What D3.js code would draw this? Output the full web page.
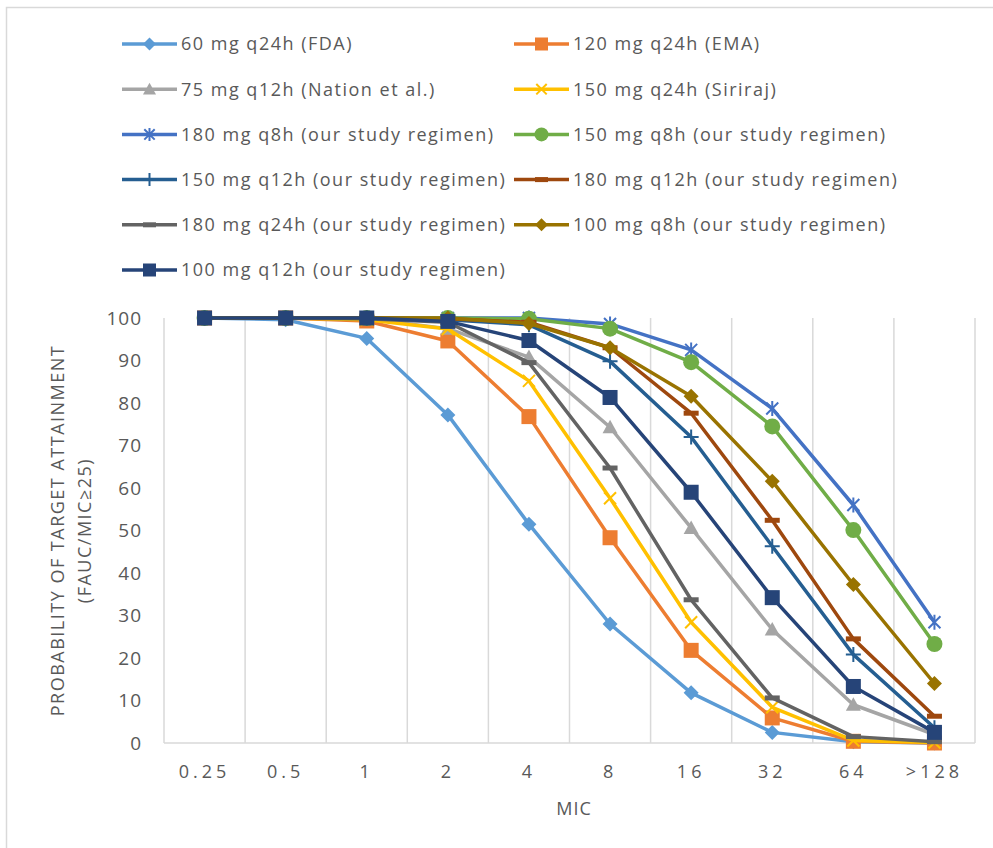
<!DOCTYPE html>
<html>
<head>
<meta charset="utf-8">
<script src="https://cdn.jsdelivr.net/npm/d3@7"></script>
<style>
  body { margin: 0; background: #fff; }
  text { font-family: "Open Sans", "Noto Sans", sans-serif; fill: #595959; }
</style>
</head>
<body>
<div id="container"></div>
<script>
/* DATA */
const mic = ["0.25", "0.5", "1", "2", "4", "8", "16", "32", "64", ">128"];

const fda60      = [100, 99.6, 95.2, 77.2, 51.5, 28.0, 11.8, 2.5, 0.3, 0];
const ema120     = [100, 100, 99.3, 94.6, 76.8, 48.3, 21.8, 5.9, 0.4, 0];
const nation75   = [100, 100, 99.8, 97.5, 90.8, 74.3, 50.6, 26.7, 9.0, 2.0];
const siriraj150 = [100, 100, 99.6, 97.4, 85.2, 57.6, 28.4, 8.4, 0.6, 0.1];
const q8h180     = [100, 100, 100, 100, 100, 98.6, 92.5, 78.7, 56.0, 28.4];
const q8h150     = [100, 100, 100, 100, 99.8, 97.5, 89.6, 74.5, 50.1, 23.3];
const q12h150    = [100, 100, 100, 99.6, 98.4, 89.8, 72.0, 46.3, 20.8, 3.6];
const q12h180    = [100, 100, 100, 99.8, 99.0, 93.0, 77.6, 52.4, 24.5, 6.3];
const q24h180    = [100, 100, 99.8, 99.0, 89.5, 64.7, 33.7, 10.6, 1.5, 0.3];
const q8h100     = [100, 100, 100, 100, 98.7, 93.0, 81.6, 61.6, 37.3, 14.0];
const q12h100    = [100, 100, 100, 99.2, 94.7, 81.3, 59.0, 34.2, 13.3, 2.5];

const names = [
  "60 mg q24h (FDA)", "120 mg q24h (EMA)",
  "75 mg q12h (Nation et al.)", "150 mg q24h (Siriraj)",
  "180 mg q8h (our study regimen)", "150 mg q8h (our study regimen)",
  "150 mg q12h (our study regimen)", "180 mg q12h (our study regimen)",
  "180 mg q24h (our study regimen)", "100 mg q8h (our study regimen)",
  "100 mg q12h (our study regimen)"
];
const values = [fda60, ema120, nation75, siriraj150, q8h180, q8h150,
                q12h150, q12h180, q24h180, q8h100, q12h100];

/* STYLES */
const colors = ["#5B9BD5", "#ED7D31", "#A5A5A5", "#FFC000", "#4472C4", "#70AD47",
                "#255E91", "#9E480E", "#636363", "#997300", "#264478"];
const shapes = ["diamond", "square", "triangle", "x", "star", "circle",
                "plus", "dash", "dash", "diamond", "square"];

const series = names.map((name, i) => ({
  name, color: colors[i], shape: shapes[i],
  values: values[i].map((v, j) => ({ mic: mic[j], v }))
}));

/* CONSTANTS */
const width = 993, height = 848,
  margin = { top: 318, bottom: 105, left: 164, right: 18 };

const svg = d3.select("#container")
  .append("svg")
  .attr("width", width)
  .attr("height", height);

// chart border (only left and top edges in frame)
svg.append("rect")
  .attr("x", 6.5).attr("y", 7.5)
  .attr("width", 1000).attr("height", 1000)
  .attr("fill", "none")
  .attr("stroke", "#d9d9d9")
  .attr("stroke-width", 1.5);

/* SCALES */
const xScale = d3.scaleBand()
  .domain(mic)
  .range([margin.left, width - margin.right]);

const yScale = d3.scaleLinear()
  .domain([0, 100])
  .range([height - margin.bottom, margin.top]);

// vertical gridlines at category edges
const edges = mic.map(m => xScale(m)).concat([xScale.range()[1]]);
svg.append("g")
  .selectAll("line")
  .data(edges)
  .join("line")
  .attr("x1", d => d).attr("x2", d => d)
  .attr("y1", yScale(100)).attr("y2", yScale(0))
  .attr("stroke", "#d9d9d9")
  .attr("stroke-width", 1.5);

// x axis line
svg.append("line")
  .attr("x1", xScale.range()[0]).attr("x2", xScale.range()[1])
  .attr("y1", yScale(0)).attr("y2", yScale(0))
  .attr("stroke", "#d9d9d9")
  .attr("stroke-width", 1.5);

// axes
const xAxis = d3.axisBottom(xScale).tickSize(0).tickPadding(22);
svg.append("g")
  .attr("transform", `translate(0,${yScale(0)})`)
  .call(xAxis)
  .call(g => g.select(".domain").remove())
  .selectAll("text")
  .style("font-size", "18px")
  .style("letter-spacing", "4px")
  .style("font-family", "'Open Sans', sans-serif")
  .attr("fill", "#595959");

const yAxis = d3.axisLeft(yScale).tickValues(d3.range(0, 101, 10)).tickSize(0).tickPadding(22);
svg.append("g")
  .attr("transform", `translate(${margin.left},0)`)
  .call(yAxis)
  .call(g => g.select(".domain").remove())
  .selectAll("text")
  .style("font-size", "19px")
  .style("letter-spacing", "1px")
  .style("font-family", "'Open Sans', sans-serif")
  .attr("fill", "#595959");

// axis titles
svg.append("text")
  .attr("x", 574)
  .attr("y", 815)
  .attr("text-anchor", "middle")
  .style("font-size", "18px")
  .style("letter-spacing", "1px")
  .text("MIC");

const ytitle = svg.append("text")
  .attr("transform", `translate(64,${yScale(50)}) rotate(-90)`)
  .attr("text-anchor", "middle")
  .style("font-size", "18px")
  .style("letter-spacing", "1.5px");
ytitle.append("tspan").attr("x", 0).attr("dy", 0).text("PROBABILITY OF TARGET ATTAINMENT");
ytitle.append("tspan").attr("x", 0).attr("dy", 27).text("(FAUC/MIC\u226525)");

/* MARKERS */
function drawMarker(g, shape, color, s) {
  const h = s / 2;
  if (shape === "square") {
    g.append("rect").attr("x", -h).attr("y", -h).attr("width", s).attr("height", s).attr("fill", color);
  } else if (shape === "diamond") {
    g.append("path").attr("d", `M0,${-h}L${h},0L0,${h}L${-h},0Z`).attr("fill", color);
  } else if (shape === "triangle") {
    g.append("path").attr("d", `M0,${-h}L${h},${h * 0.8}L${-h},${h * 0.8}Z`).attr("fill", color);
  } else if (shape === "circle") {
    g.append("circle").attr("r", h).attr("fill", color);
  } else if (shape === "x") {
    const k = h * 0.8;
    g.append("path").attr("d", `M${-k},${-k}L${k},${k}M${k},${-k}L${-k},${k}`)
      .attr("stroke", color).attr("stroke-width", 2).attr("fill", "none");
  } else if (shape === "star") {
    const k = h * 0.8;
    g.append("path").attr("d", `M${-k},${-k}L${k},${k}M${k},${-k}L${-k},${k}M0,${-h}L0,${h}`)
      .attr("stroke", color).attr("stroke-width", 2).attr("fill", "none");
  } else if (shape === "plus") {
    g.append("path").attr("d", `M${-h},0L${h},0M0,${-h}L0,${h}`)
      .attr("stroke", color).attr("stroke-width", 2).attr("fill", "none");
  } else if (shape === "dash") {
    g.append("rect").attr("x", -h).attr("y", -2.5).attr("width", s).attr("height", 5).attr("fill", color);
  }
}

/* LINES */
const line = d3.line()
  .x(d => xScale(d.mic) + xScale.bandwidth() / 2)
  .y(d => yScale(d.v));

const seriesG = svg.append("g")
  .selectAll("g")
  .data(series)
  .join("g");

seriesG.append("path")
  .attr("d", d => line(d.values))
  .attr("fill", "none")
  .attr("stroke", d => d.color)
  .attr("stroke-width", 3.5)
  .attr("stroke-linejoin", "round");

seriesG.each(function (d) {
  d3.select(this).selectAll(".pt")
    .data(d.values)
    .join("g")
    .attr("class", "pt")
    .attr("transform", p => `translate(${xScale(p.mic) + xScale.bandwidth() / 2},${yScale(p.v)})`)
    .each(function () { drawMarker(d3.select(this), d.shape, d.color, d.shape === "circle" ? 16 : 15); });
});

/* LEGEND */
const legend = svg.append("g")
  .selectAll("g")
  .data(series)
  .join("g")
  .attr("transform", (d, i) => `translate(${i % 2 === 0 ? 122 : 514},${44 + Math.floor(i / 2) * 45.2})`);

legend.append("line")
  .attr("x1", 0).attr("x2", 55)
  .attr("stroke", d => d.color)
  .attr("stroke-width", 3.5);

legend.each(function (d) {
  const m = d3.select(this).append("g").attr("transform", "translate(27.5,0)");
  drawMarker(m, d.shape, d.color, d.shape === "circle" ? 14 : 13);
});

legend.append("text")
  .attr("x", 59)
  .attr("dy", "0.35em")
  .style("font-size", "18px")
  .style("letter-spacing", "1.5px")
  .text(d => d.name);
</script>
</body>
</html>
